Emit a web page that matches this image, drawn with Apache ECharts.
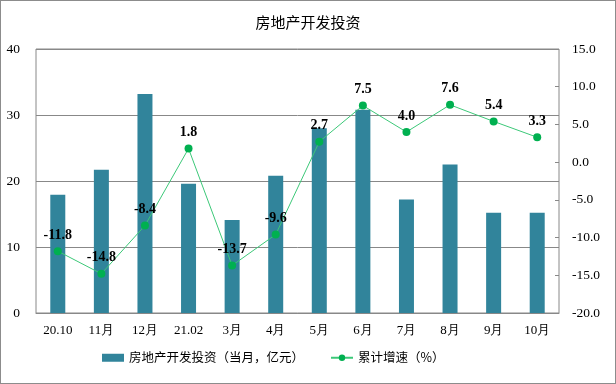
<!DOCTYPE html>
<html><head><meta charset="utf-8">
<script src="https://cdn.jsdelivr.net/npm/echarts@6/dist/echarts.min.js"></script>
<style>html,body{margin:0;padding:0;background:#fff}#c{width:616px;height:384px;box-sizing:border-box;border:1px solid #8c8c8c}</style>
</head><body><div id="c"></div>
<script>
var categories = ['20.10','11月','12月','21.02','3月','4月','5月','6月','7月','8月','9月','10月'];
var investMonthly = [17.9, 21.7, 33.2, 19.6, 14.1, 20.8, 28.0, 30.8, 17.2, 22.5, 15.2, 15.2];
var cumGrowth = [-11.8, -14.8, -8.4, 1.8, -13.7, -9.6, 2.7, 7.5, 4.0, 7.6, 5.4, 3.3];
var leftTicks = {min: 0, max: 40, interval: 10};
var rightTicks = {min: -20, max: 15, interval: 5};
var titleText = '房地产开发投资';
var barName = '房地产开发投资（当月，亿元）';
var lineName = '累计增速（%）';

var serif = '"Liberation Serif","Times New Roman",serif';
var cjk = '"Noto Sans CJK SC",sans-serif';
var chart = echarts.init(document.getElementById('c'), null, {renderer: 'canvas'});
chart.setOption({
  animation: false,
  title: {text: titleText, left: 'center', top: 9,
    textStyle: {fontFamily: cjk, fontSize: 15, fontWeight: 'normal', color: '#000'}},
  grid: {left: 35, right: 56, top: 48, bottom: 70, show: true, borderColor: '#888', borderWidth: 1},
  legend: {left: 96, bottom: 14, itemGap: 26, itemWidth: 22, itemHeight: 8,
    textStyle: {fontFamily: cjk, fontSize: 12.5, color: '#000'},
    data: [{name: barName, icon: 'rect'}, {name: lineName}]},
  xAxis: {type: 'category', data: categories,
    axisLine: {lineStyle: {color: '#888'}},
    axisTick: {inside: true, length: 4, lineStyle: {color: '#888'}},
    axisLabel: {fontFamily: serif, fontSize: 13, color: '#000', margin: 11}},
  yAxis: [
    {type: 'value', min: leftTicks.min, max: leftTicks.max, interval: leftTicks.interval,
      axisLine: {show: false}, axisTick: {show: false},
      splitLine: {lineStyle: {color: '#888'}},
      axisLabel: {fontFamily: serif, fontSize: 13.5, color: '#000', margin: 16}},
    {type: 'value', min: rightTicks.min, max: rightTicks.max, interval: rightTicks.interval,
      position: 'right',
      axisLine: {show: false}, axisTick: {show: true, inside: true, length: 4, lineStyle: {color: '#888'}},
      splitLine: {show: false},
      axisLabel: {fontFamily: serif, fontSize: 13.5, color: '#000', margin: 13,
        formatter: function (v) { return v.toFixed(1); }}}
  ],
  series: [
    {name: barName, type: 'bar', data: investMonthly, barWidth: 15,
      itemStyle: {color: '#31849B'}},
    {name: lineName, type: 'line', yAxisIndex: 1, data: cumGrowth,
      symbol: 'circle', symbolSize: 8,
      lineStyle: {color: '#3CC878', width: 1},
      itemStyle: {color: '#00B050'},
      label: {show: true, position: 'top', distance: 5,
        fontFamily: serif, fontSize: 14, fontWeight: 'bold', color: '#000',
        formatter: function (p) { return p.value.toFixed(1); }}}
  ]
});
</script></body></html>
